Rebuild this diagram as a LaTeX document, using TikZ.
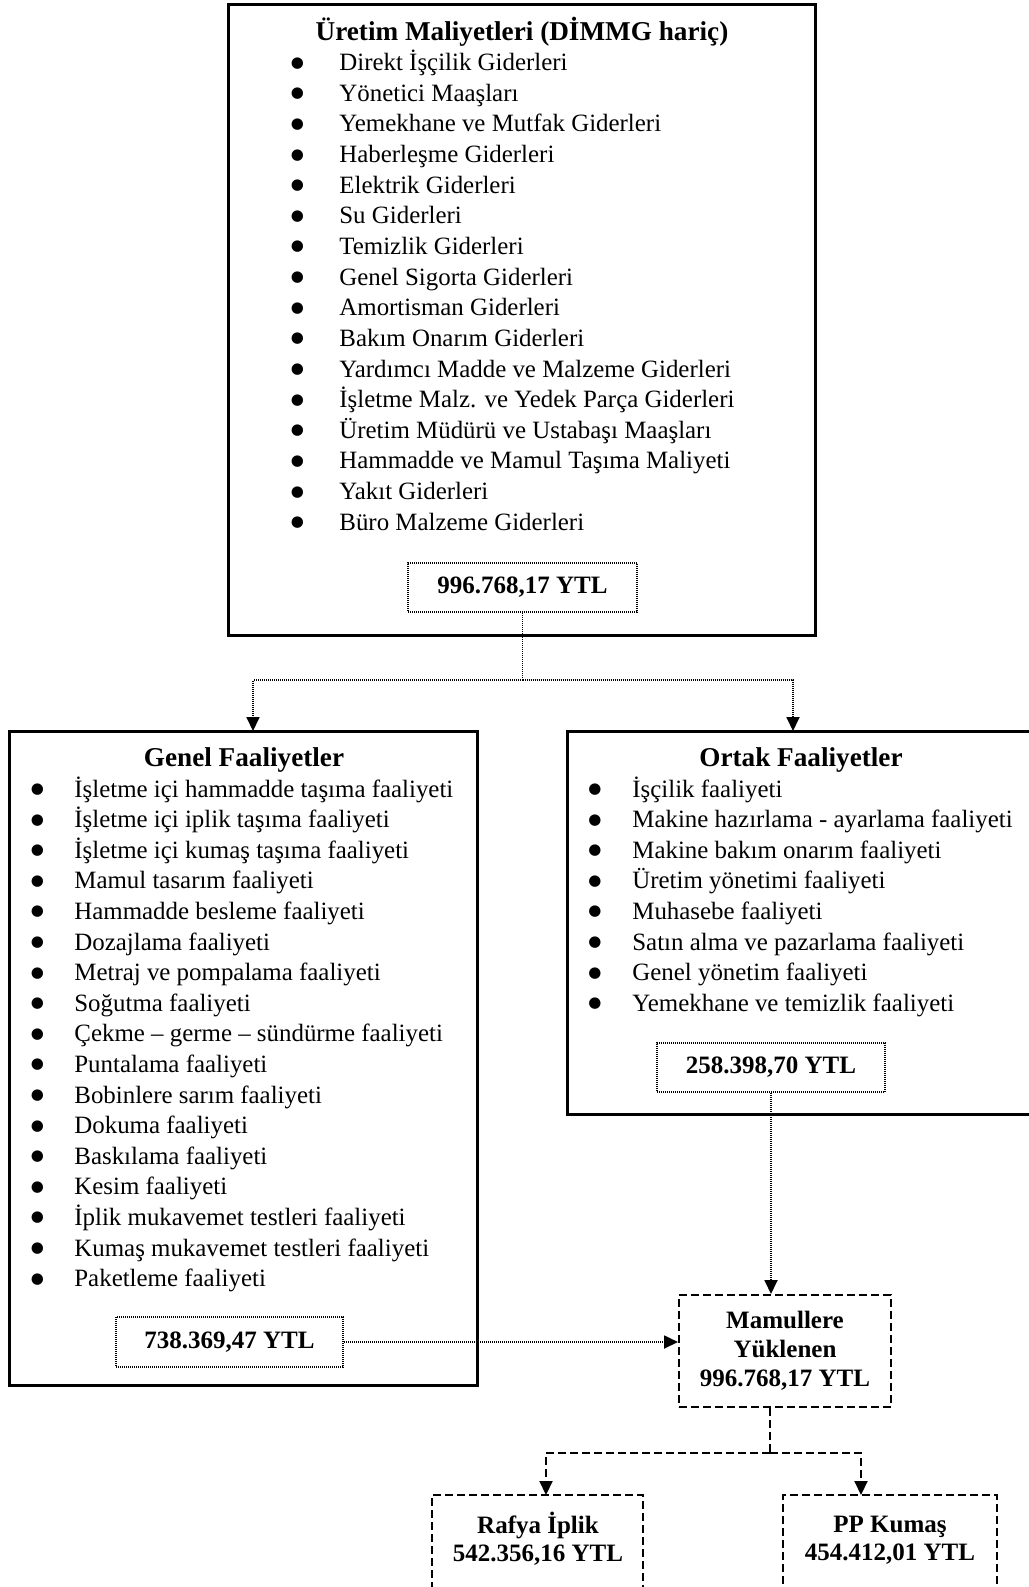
\documentclass[tikz,border=0pt]{standalone}
\usepackage{fontspec}
\setmainfont{Liberation Serif}
\newfontfamily\markfont{DejaVu Sans}
\usetikzlibrary{arrows.meta,fit}

\tikzset{
  frame/.style={draw, line width=1.5pt, inner sep=0pt},
  dashframe/.style={draw, line width=1pt, dash pattern=on 4pt off 2pt, inner sep=0pt},
  sumbox/.style={draw, line width=1pt, dash pattern=on 0.5pt off 0.5pt, inner sep=0pt,
    font=\fontsize{12.5}{15}\selectfont\bfseries},
  headline/.style={font=\fontsize{13.6}{16}\selectfont\bfseries, inner sep=0pt},
  itemtext/.style={font=\fontsize{12.45}{15}\selectfont, inner sep=0pt},
  bulletmark/.style={font=\markfont\fontsize{7.5}{8}\selectfont, inner sep=0pt, anchor=base},
  result/.style={font=\fontsize{12.5}{14.5}\selectfont\bfseries, align=center, inner sep=0pt},
  dotline/.style={line width=0.9pt, dash pattern=on 0.5pt off 0.5pt},
  dashline/.style={line width=1pt, dash pattern=on 4pt off 2pt},
  tip/.style={-{Triangle[width=6.5pt,length=7pt]}}
}

\begin{document}
\begin{tikzpicture}[x=0.5pt,y=-0.5pt]
\useasboundingbox (0,0) rectangle (1029,1587);
\clip (0,0) rectangle (1029,1587);

% outer frames
\node[frame, fit={(228,4) (815,635)}] (uretim) {};
\node[frame, fit={(9,731) (477,1385)}] (genel) {};
\node[frame, fit={(567,731) (1045,1114)}] (ortak) {};
\node[dashframe, fit={(679,1295) (891,1407)}] (mamul) {};
\node[dashframe, fit={(432,1495) (643,1610)}] (rafya) {};
\node[dashframe, fit={(783,1495) (997,1610)}] (kumas) {};

% headings
\node[headline, anchor=base] (uretimT) at (522,40) {Üretim Maliyetleri (DİMMG hariç)};
\node[headline, anchor=base] (genelT) at (244,766) {Genel Faaliyetler};
\node[headline, anchor=base] (ortakT) at (801,766) {Ortak Faaliyetler};

% cost items
\foreach \t [count=\i] in {Direkt İşçilik Giderleri, Yönetici Maaşları,
  Yemekhane ve Mutfak Giderleri, Haberleşme Giderleri, Elektrik Giderleri,
  Su Giderleri, Temizlik Giderleri, Genel Sigorta Giderleri,
  Amortisman Giderleri, Bakım Onarım Giderleri,
  Yardımcı Madde ve Malzeme Giderleri, İşletme Malz. ve Yedek Parça Giderleri,
  Üretim Müdürü ve Ustabaşı Maaşları, Hammadde ve Mamul Taşıma Maliyeti,
  Yakıt Giderleri, Büro Malzeme Giderleri} {
  \node[bulletmark] (ub\i) at (297.5, {70.7+30.63*(\i-1)-3.5}) {●};
  \node[itemtext, anchor=base west] (u\i) at (339, {70.7+30.63*(\i-1)}) {\t};
}

% general activities
\foreach \t [count=\i] in {İşletme içi hammadde taşıma faaliyeti,
  İşletme içi iplik taşıma faaliyeti, İşletme içi kumaş taşıma faaliyeti,
  Mamul tasarım faaliyeti, Hammadde besleme faaliyeti, Dozajlama faaliyeti,
  Metraj ve pompalama faaliyeti, Soğutma faaliyeti,
  Çekme – germe – sündürme faaliyeti, Puntalama faaliyeti,
  Bobinlere sarım faaliyeti, Dokuma faaliyeti, Baskılama faaliyeti,
  Kesim faaliyeti, İplik mukavemet testleri faaliyeti,
  Kumaş mukavemet testleri faaliyeti, Paketleme faaliyeti} {
  \node[bulletmark] (gb\i) at (37.5, {797+30.6*(\i-1)-3.5}) {●};
  \node[itemtext, anchor=base west] (g\i) at (74, {797+30.6*(\i-1)}) {\t};
}

% shared activities
\foreach \t [count=\i] in {İşçilik faaliyeti,
  Makine hazırlama - ayarlama faaliyeti, Makine bakım onarım faaliyeti,
  Üretim yönetimi faaliyeti, Muhasebe faaliyeti,
  Satın alma ve pazarlama faaliyeti, Genel yönetim faaliyeti,
  Yemekhane ve temizlik faaliyeti} {
  \node[bulletmark] (ob\i) at (595, {797+30.6*(\i-1)-3.5}) {●};
  \node[itemtext, anchor=base west] (o\i) at (632, {797+30.6*(\i-1)}) {\t};
}

% totals
\node[sumbox, minimum width=114.5pt, minimum height=24.5pt] (uretimV) at (522.5,587.5) {996.768,17 YTL};
\node[sumbox, minimum width=113.5pt, minimum height=25pt] (genelV) at (229.5,1342) {738.369,47 YTL};
\node[sumbox, minimum width=114pt, minimum height=24.5pt] (ortakV) at (771,1067.5) {258.398,70 YTL};

\node[result] (mamulT) at (785,1351) {Mamullere\\Yüklenen\\996.768,17 YTL};
\node[result, font=\fontsize{12.5}{14}\selectfont\bfseries] (rafyaT) at (538,1539) {Rafya İplik\\542.356,16 YTL};
\node[result, font=\fontsize{12.5}{14}\selectfont\bfseries] (kumasT) at (890,1540) {PP Kumaş\\454.412,01 YTL};

% distribution of production costs
\coordinate (split1) at (522.5,680);
\coordinate (genelIn) at (253,731);
\coordinate (ortakIn) at (793,731);
\draw[dotline] (uretimV.south) -- (split1);
\draw[dotline, tip] (split1) -| (genelIn);
\draw[dotline, tip] (split1) -| (ortakIn);

\draw[dotline, tip] (ortakV.south) -- (ortakV.south |- mamul.north);
\draw[dotline, tip] (genelV.east) -- (genelV.east -| mamul.west);

% allocation to products
\coordinate (split2) at (770,1453);
\coordinate (rafyaIn) at (546,1495);
\coordinate (kumasIn) at (861,1495);
\draw[dashline] (split2 |- mamul.south) -- (split2);
\draw[dashline, tip] (split2) -| (rafyaIn);
\draw[dashline, tip] (split2) -| (kumasIn);
\end{tikzpicture}
\end{document}
